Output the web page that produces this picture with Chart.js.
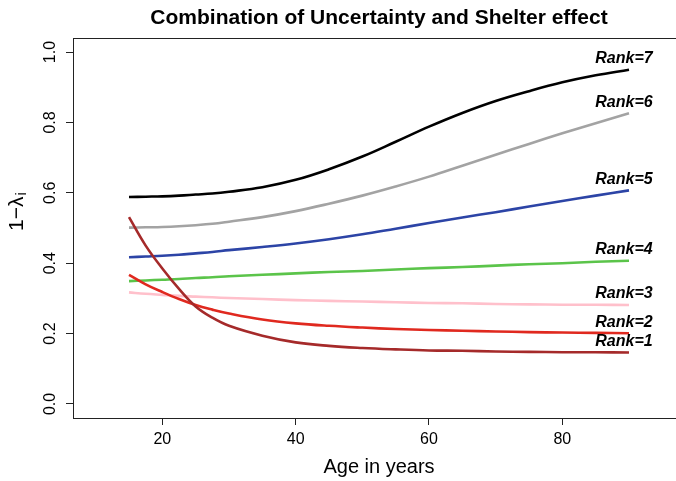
<!DOCTYPE html>
<html>
<head>
<meta charset="utf-8">
<script src="https://cdn.jsdelivr.net/npm/chart.js"></script>
<style>
  html, body { margin: 0; padding: 0; background: #fff; overflow: hidden; }
  #wrap { width: 676px; height: 481px; overflow: hidden; }
</style>
</head>
<body>
<div id="wrap"><canvas id="c" width="700" height="481"></canvas></div>
<script>
// ages shared by all curves
const ages = [15, 17.5, 20, 22.5, 25, 27.5, 30, 35, 40, 45, 50, 55, 60, 65, 70, 75, 80, 85, 90];

const rank1 = [0.531, 0.450, 0.385, 0.327, 0.277, 0.245, 0.222, 0.194, 0.175, 0.165, 0.159, 0.155, 0.152, 0.151, 0.149, 0.148, 0.147, 0.147, 0.146];
const rank2 = [0.367, 0.340, 0.318, 0.298, 0.281, 0.268, 0.257, 0.240, 0.229, 0.222, 0.217, 0.213, 0.210, 0.208, 0.206, 0.204, 0.203, 0.202, 0.201];
const rank3 = [0.317, 0.313, 0.310, 0.307, 0.305, 0.303, 0.301, 0.298, 0.295, 0.293, 0.291, 0.289, 0.287, 0.286, 0.284, 0.283, 0.282, 0.282, 0.281];
const rank4 = [0.349, 0.351, 0.353, 0.355, 0.358, 0.360, 0.363, 0.367, 0.371, 0.375, 0.378, 0.382, 0.386, 0.389, 0.393, 0.397, 0.400, 0.404, 0.407];
const rank5 = [0.417, 0.419, 0.421, 0.424, 0.428, 0.432, 0.437, 0.446, 0.456, 0.468, 0.482, 0.498, 0.514, 0.530, 0.545, 0.561, 0.577, 0.592, 0.607];
const rank6 = [0.501, 0.502, 0.503, 0.505, 0.508, 0.512, 0.518, 0.531, 0.548, 0.569, 0.592, 0.618, 0.646, 0.677, 0.708, 0.739, 0.769, 0.798, 0.826];
const rank7 = [0.588, 0.589, 0.590, 0.592, 0.595, 0.598, 0.603, 0.616, 0.637, 0.667, 0.703, 0.745, 0.788, 0.827, 0.861, 0.889, 0.914, 0.934, 0.950];

const rankNames = ["Rank=1", "Rank=2", "Rank=3", "Rank=4", "Rank=5", "Rank=6", "Rank=7"];
const rankValues = [rank1, rank2, rank3, rank4, rank5, rank6, rank7];
const rankColors = ["#a52a2a", "#e0291f", "#ffc0cb", "#5bc44a", "#2c44a6", "#a3a3a3", "#000000"];

const FONT = '"Liberation Sans", Arial, Helvetica, sans-serif';

const datasets = rankNames.map((name, i) => ({
  label: name,
  data: ages.map((a, j) => ({ x: a, y: rankValues[i][j] })),
  borderColor: rankColors[i],
  borderWidth: 2.6,
  pointRadius: 0,
  tension: 0.4,
  fill: false
}));

const extras = {
  id: "extras",
  afterDraw(chart) {
    const { ctx, chartArea: a, scales: { x, y } } = chart;
    ctx.save();

    // box round the plot
    ctx.strokeStyle = "#222";
    ctx.lineWidth = 1;
    ctx.strokeRect(a.left + 0.5, a.top + 0.5, a.right - a.left, a.bottom - a.top);

    // y tick labels, rotated like R
    ctx.fillStyle = "#000";
    ctx.font = "16px " + FONT;
    ctx.textAlign = "center";
    ctx.textBaseline = "middle";
    y.ticks.forEach(t => {
      const py = y.getPixelForValue(t.value);
      ctx.save();
      ctx.translate(51, py);
      ctx.rotate(-Math.PI / 2);
      ctx.fillText(t.value.toFixed(1), 0, 0);
      ctx.restore();
    });

    // rank labels above the end of each curve
    ctx.font = "italic bold 16px " + FONT;
    rankValues.forEach((vals, i) => {
      const px = x.getPixelForValue(ages[ages.length - 1]) - 5;
      const py = y.getPixelForValue(vals[vals.length - 1]) - 11;
      ctx.fillText(rankNames[i], px, py);
    });

    // title
    const cx = (a.left + a.right) / 2;
    ctx.font = "bold 21px " + FONT;
    ctx.fillText("Combination of Uncertainty and Shelter effect", cx, 18);

    // x title
    ctx.font = "20px " + FONT;
    ctx.fillText("Age in years", cx, 467);

    // y title: 1−λ with subscript i
    ctx.save();
    ctx.translate(17, 212);
    ctx.rotate(-Math.PI / 2);
    ctx.textAlign = "left";
    ctx.font = "21px " + FONT;
    const main = "1\u2212\u03bb";
    const wMain = ctx.measureText(main).width;
    ctx.font = "15px " + FONT;
    const wSub = ctx.measureText("i").width;
    const start = -(wMain + wSub) / 2;
    ctx.font = "21px " + FONT;
    ctx.fillText(main, start, 0);
    ctx.font = "15px " + FONT;
    ctx.fillText("i", start + wMain + 1, 5);
    ctx.restore();

    ctx.restore();
  }
};

new Chart(document.getElementById("c"), {
  type: "line",
  data: { datasets },
  options: {
    responsive: false,
    animation: false,
    layout: { padding: { top: 38, right: 15, left: 0, bottom: 0 } },
    plugins: {
      legend: { display: false },
      tooltip: { enabled: false },
      title: { display: false }
    },
    scales: {
      x: {
        type: "linear",
        min: 6.6,
        max: 98.4,
        afterFit: s => { s.height = 63; },
        border: { display: false },
        grid: { drawOnChartArea: false, drawTicks: true, tickLength: 7, color: "#222" },
        ticks: {
          stepSize: 20,
          includeBounds: false,
          padding: 5,
          color: "#000",
          font: { size: 16, family: FONT },
          maxRotation: 0
        }
      },
      y: {
        type: "linear",
        min: -0.04,
        max: 1.04,
        afterFit: s => { s.width = 73; },
        border: { display: false },
        grid: { drawOnChartArea: false, drawTicks: true, tickLength: 7, color: "#222" },
        ticks: {
          stepSize: 0.2,
          includeBounds: false,
          display: false
        }
      }
    }
  },
  plugins: [extras]
});
</script>
</body>
</html>
